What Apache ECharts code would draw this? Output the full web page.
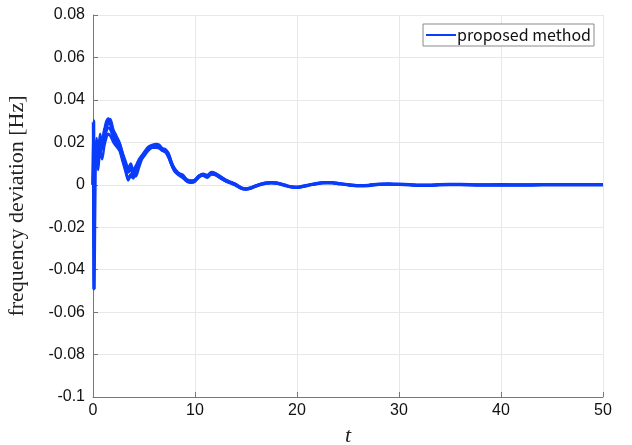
<!DOCTYPE html>
<html><head><meta charset="utf-8">
<script src="https://cdn.jsdelivr.net/npm/echarts@6/dist/echarts.min.js"></script>
<style>html,body{margin:0;padding:0;background:#fff}#c{width:632px;height:445px}</style>
</head><body><div id="c"></div>
<script>
const tValues = [0,0.05,0.1,0.2,0.35,0.5,0.7,0.9,1.1,1.3,1.5,1.7,2.0,2.3,2.6,2.9,3.2,3.45,3.7,3.95,4.2,4.5,4.8,5.1,5.4,5.8,6.2,6.5,6.8,7.1,7.4,7.7,8.0,8.4,8.8,9.2,9.6,10.0,10.4,10.8,11.2,11.6,12.0,12.5,13.0,13.5,14.0,14.5,15.0,15.5,16.0,16.5,17.0,17.5,18.0,18.5,19.0,19.5,20.0,20.5,21,21.5,22,22.5,23,23.5,24,25,26,27,28,29,30,31,32,33,34,35,36,38,40,42,44,46,48,50];
const agentA = [0,0.030,-0.049,0.005,0.018,0.012,0.020,0.017,0.024,0.029,0.031,0.029,0.024,0.021,0.019,0.014,0.009,0.006,0.008,0.005,0.007,0.011,0.013,0.015,0.017,0.018,0.0185,0.018,0.0165,0.016,0.014,0.010,0.007,0.005,0.004,0.002,0.0015,0.002,0.004,0.0047,0.004,0.0055,0.005,0.0035,0.002,0.001,0.0,-0.0015,-0.002,-0.0015,-0.0005,0.0003,0.0008,0.001,0.0008,0.0002,-0.0005,-0.001,-0.0012,-0.0008,-0.0003,0.0002,0.0006,0.0009,0.001,0.0009,0.0006,0.0,-0.0004,-0.0003,0.0002,0.0004,0.0002,0.0,-0.0002,-0.0002,0.0,0.0001,0.0001,-0.0001,0.0,-0.0001,0,0,0,0];
const agentB = [0,0.024,-0.030,0.010,0.010,0.020,0.013,0.022,0.020,0.025,0.027,0.026,0.022,0.019,0.017,0.012,0.007,0.003,0.005,0.004,0.004,0.008,0.012,0.014,0.016,0.0175,0.0175,0.0172,0.016,0.0152,0.0128,0.0092,0.0062,0.0045,0.0032,0.0015,0.001,0.0015,0.0036,0.0042,0.0033,0.0049,0.0045,0.003,0.0016,0.0007,-0.0004,-0.0018,-0.0022,-0.0017,-0.0007,0.0001,0.0006,0.0008,0.0006,0.0,-0.0006,-0.0011,-0.0013,-0.0009,-0.0004,0.0001,0.0005,0.0008,0.0009,0.0008,0.0005,-0.0001,-0.0004,-0.0003,0.0001,0.0003,0.0002,0.0,-0.0002,-0.0002,0.0,0.0001,0.0,-0.0001,0.0,-0.0001,0,0,0,0];
const agentC = [0,0.016,0.006,0.014,0.022,0.016,0.024,0.019,0.026,0.027,0.029,0.031,0.026,0.023,0.020,0.015,0.011,0.008,0.010,0.007,0.009,0.012,0.014,0.016,0.0178,0.0188,0.0192,0.0188,0.0172,0.0168,0.015,0.0108,0.0078,0.0056,0.0047,0.0026,0.002,0.0025,0.0044,0.0052,0.0046,0.006,0.0055,0.004,0.0024,0.0013,0.0003,-0.0012,-0.0018,-0.0013,-0.0003,0.0005,0.001,0.0012,0.001,0.0004,-0.0004,-0.0009,-0.0011,-0.0007,-0.0002,0.0003,0.0007,0.001,0.0011,0.001,0.0007,0.0001,-0.0003,-0.0002,0.0003,0.0004,0.0003,0.0001,-0.0001,-0.0001,0.0,0.0001,0.0001,0.0,0.0,0.0,0,0,0,0];
const agentD = [0,0.010,0.002,0.008,0.014,0.007,0.016,0.012,0.018,0.022,0.024,0.023,0.020,0.018,0.016,0.011,0.006,0.002,0.004,0.003,0.006,0.010,0.0125,0.0145,0.0165,0.018,0.018,0.0176,0.0162,0.0156,0.0134,0.0098,0.0068,0.005,0.0038,0.0018,0.0012,0.0018,0.004,0.0045,0.0038,0.0052,0.0048,0.0033,0.0018,0.0009,-0.0002,-0.0016,-0.002,-0.0015,-0.0005,0.0003,0.0008,0.0009,0.0007,0.0002,-0.0005,-0.001,-0.0012,-0.0008,-0.0003,0.0002,0.0006,0.0009,0.001,0.0009,0.0006,0.0,-0.0004,-0.0003,0.0002,0.0004,0.0002,0.0,-0.0002,-0.0002,0.0,0.0001,0.0001,-0.0001,0.0,-0.0001,0,0,0,0];
const xTicks = [0,10,20,30,40,50];
const yTicks = [-0.1,-0.08,-0.06,-0.04,-0.02,0,0.02,0.04,0.06,0.08];
const seriesName = 'proposed method';
const agents = [agentA, agentB, agentC, agentD];
const lineColor = '#0a3cfa';

const chart = echarts.init(document.getElementById('c'), null, {renderer:'canvas'});
const series = agents.map((vals, i) => ({
  name: seriesName, type: 'line', showSymbol: false, symbol: 'none',
  data: tValues.map((t, k) => [t, vals[k]]),
  lineStyle: {color: lineColor, width: i === 0 ? 3.5 : 2.5},
  itemStyle: {color: lineColor},
  smooth: 0.25, animation: false
}));
chart.setOption({
  animation: false,
  grid: {left: 93, right: 29, top: 15, bottom: 48, containLabel: false, outerBoundsMode: 'none'},
  legend: {
    data: [seriesName], right: 38, top: 24, orient: 'horizontal',
    backgroundColor: '#fff', borderColor: '#8a8a8a', borderWidth: 1,
    padding: [3, 3, 3, 3], itemWidth: 30, itemHeight: 2, itemGap: 0,
    icon: 'rect',
    textStyle: {fontFamily: 'Noto Sans CJK JP', fontSize: 16, color: '#111', padding: [0,0,0,-4]}
  },
  xAxis: {
    type: 'value', min: 0, max: 50, interval: 10,
    name: 't', nameLocation: 'middle', nameGap: 28,
    nameTextStyle: {fontFamily: 'Liberation Serif', fontStyle: 'italic', fontSize: 22, color: '#222'},
    axisLine: {onZero: false, lineStyle: {color: '#777'}},
    axisTick: {inside: true, length: 5, lineStyle: {color: '#777'}},
    axisLabel: {fontFamily: 'Liberation Sans', fontSize: 16, color: '#111', margin: 6},
    splitLine: {show: true, lineStyle: {color: '#e8e8e8'}}
  },
  yAxis: {
    type: 'value', min: -0.1, max: 0.08, interval: 0.02,
    name: 'frequency deviation [Hz]', nameLocation: 'middle', nameGap: 65,
    nameTextStyle: {fontFamily: 'Liberation Serif', fontSize: 22, color: '#222'},
    axisLine: {show: true, onZero: false, lineStyle: {color: '#777'}},
    axisTick: {show: true, inside: true, length: 5, lineStyle: {color: '#777'}},
    axisLabel: {fontFamily: 'Liberation Sans', fontSize: 16, color: '#111', margin: 8,
      formatter: v => { const r = Math.round(v*100)/100; return yTicks.some(y => Math.abs(y-r)<1e-9) ? String(r) : ''; }},
    splitLine: {show: true, lineStyle: {color: '#e8e8e8'}}
  },
  series: series
});
</script></body></html>
